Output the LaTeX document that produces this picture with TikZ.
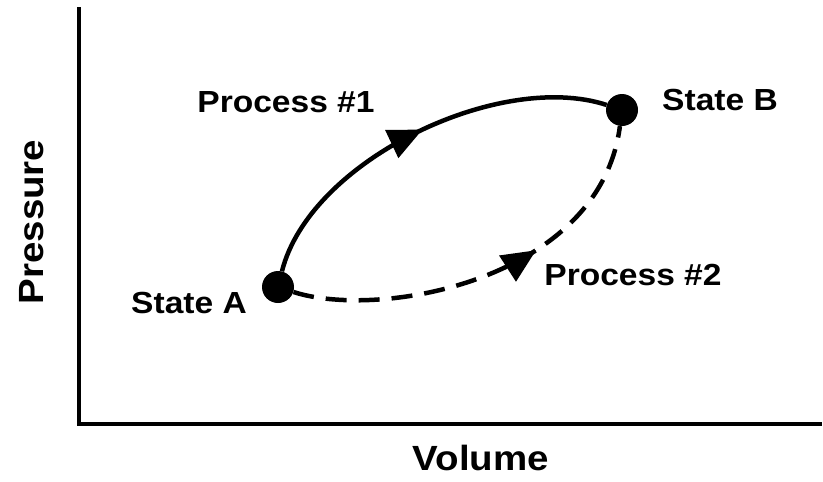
\documentclass[tikz,border=0pt]{standalone}
\usepackage{fontspec}
\setmainfont{Liberation Sans}[FakeStretch=1.1]
\usepackage{tikz}
\usetikzlibrary{arrows.meta,decorations.markings}
\tikzset{
    x=1pt,
    y=-1pt,
    axis/.style = {
        draw,
        line width=3.5pt
    },
    statept/.style = {
        shape=circle,
        fill=black,
        inner sep=0pt,
        minimum size=32pt
    },
    lbl/.style = {
        anchor=base,
        inner sep=0pt,
        font=\fontsize{30.5}{36}\selectfont\bfseries
    },
    axislbl/.style = {
        anchor=base,
        inner sep=0pt,
        font=\fontsize{35}{42}\selectfont\bfseries
    },
    process/.style = {
        line width=4.5pt,
        postaction={decorate},
        decoration={markings,
            mark=at position #1 with {\arrow{Triangle[length=34pt,width=30pt]}}}
    },
}

\begin{document}
\begin{tikzpicture}
    \useasboundingbox (0,0) rectangle (823,482);

    % axes
    \coordinate (top) at (79,7);
    \coordinate (origin) at (79,424);
    \coordinate (right) at (822,424);
    \path[axis] (top) -- (origin) -- (right);
    \node[axislbl, rotate=90] (pressure) at (43,222) {Pressure};
    \node[axislbl] (volume) at (481,470) {Volume};

    % states
    \node[statept] (A) at (278,287) {};
    \node[statept] (B) at (622,110) {};
    \node[lbl] (stateA) at (189,313) {State A};
    \node[lbl] (stateB) at (720,110) {State B};

    % processes
    \path[draw, process=0.52] (A) .. controls (310,160) and (500,70) .. (B);
    \path[draw, process=0.62, dash pattern=on 21pt off 12pt] (A) .. controls (380,320) and (600,280) .. (B);
    \node[lbl] (proc1) at (286,112) {Process \#1};
    \node[lbl] (proc2) at (633,285) {Process \#2};
\end{tikzpicture}
\end{document}
